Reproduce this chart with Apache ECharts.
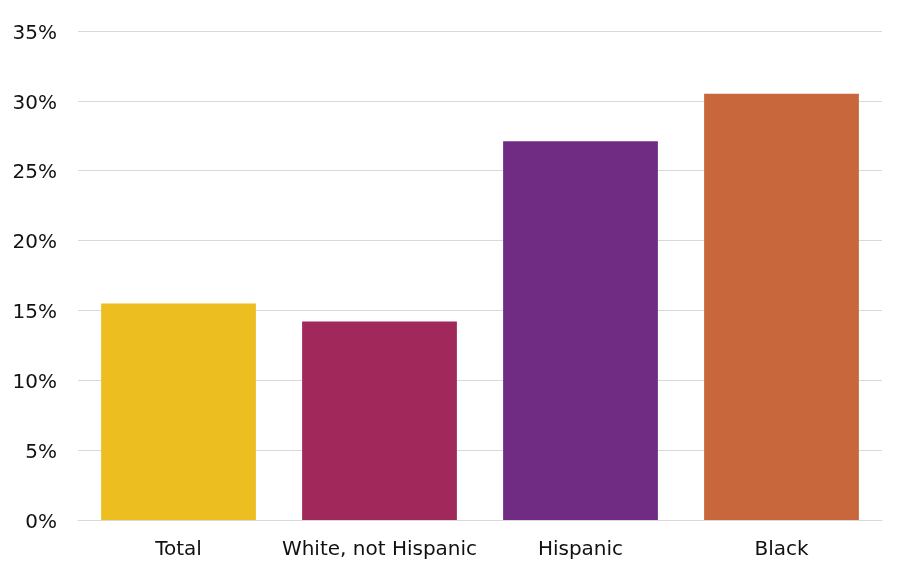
<!DOCTYPE html>
<html><head><meta charset="utf-8">
<script src="https://cdn.jsdelivr.net/npm/echarts@6/dist/echarts.min.js"></script>
<style>html,body{margin:0;padding:0;background:#fff}#c{width:904px;height:580px}</style>
</head><body><div id="c"></div>
<script>
var categories = ["Total", "White, not Hispanic", "Hispanic", "Black"];
var values = [15.5, 14.2, 27.1, 30.5];
var colors = ["#EDBE1F", "#A0285A", "#702C83", "#C8663C"];
var chart = echarts.init(document.getElementById('c'));
chart.setOption({
  animation: false,
  grid: {left: 78, right: 22, top: 31, bottom: 60},
  xAxis: {
    type: 'category', data: categories,
    axisLine: {show: true, lineStyle: {color: '#d9d9d9', width: 1}},
    axisTick: {show: false},
    axisLabel: {interval: 0, color: '#111', fontSize: 20, fontFamily: 'DejaVu Sans', margin: 20}
  },
  yAxis: {
    type: 'value', min: 0, max: 35, interval: 5,
    axisLine: {show: false}, axisTick: {show: false},
    splitLine: {lineStyle: {color: '#d9d9d9', width: 1}},
    axisLabel: {
      margin: 21,
      formatter: function (v) { return '{a|' + v + '%}'; },
      rich: {a: {color: '#111', fontSize: 20, fontFamily: 'DejaVu Sans', padding: [5, 0, 0, 0]}}
    }
  },
  series: [{
    type: 'bar', barWidth: '77%',
    data: values.map(function(v, i){ return {value: v, itemStyle: {color: colors[i]}}; })
  }]
});
</script></body></html>
